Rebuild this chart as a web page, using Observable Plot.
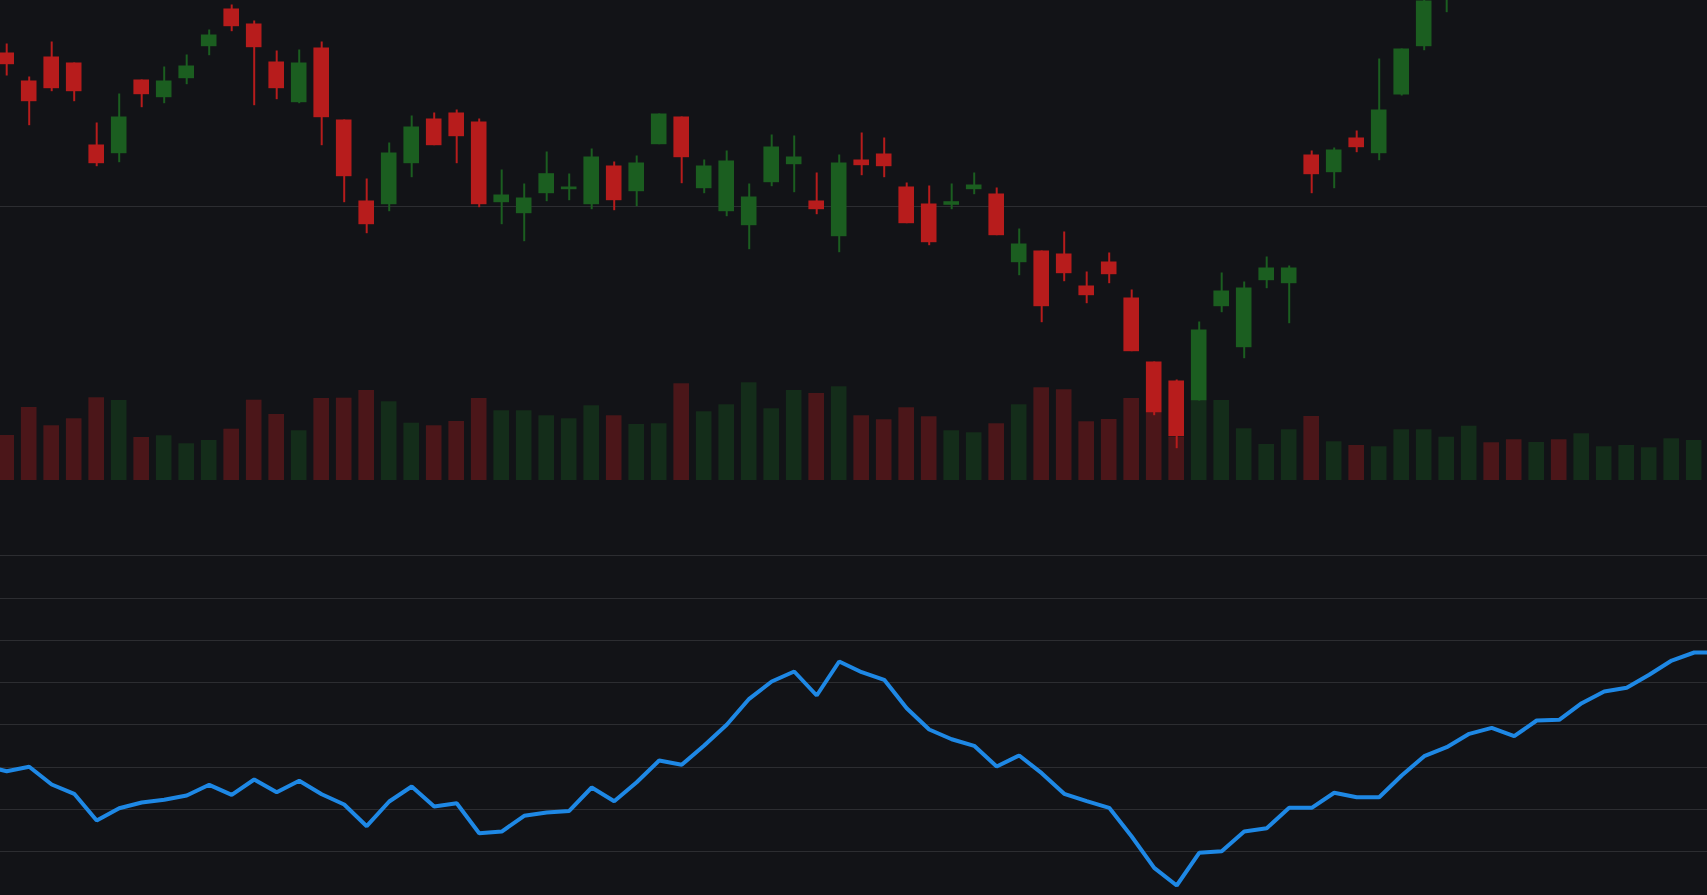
<!DOCTYPE html>
<html>
<head>
<meta charset="utf-8">
<script src="https://cdn.jsdelivr.net/npm/d3@7"></script>
<script src="https://cdn.jsdelivr.net/npm/@observablehq/plot@0.6"></script>
<style>
html, body { margin: 0; padding: 0; background: #121317; overflow: hidden; }
#chart { position: relative; width: 1707px; height: 895px; background: #121317; overflow: hidden; }
#chart svg { position: absolute; left: 0; background: transparent; }
</style>
</head>
<body>
<div id="chart"></div>
<script>
// ---- data ----
const openP = [115.35,112.55,114.95,114.35,106.15,105.28,112.65,110.88,112.78,115.98,
119.75,118.25,114.45,110.38,115.85,108.65,100.55,100.18,104.28,108.75,
109.35,108.45,100.38,99.28,101.28,101.68,100.18,104.05,101.48,106.18,
108.95,101.78,99.48,98.08,102.38,104.18,100.55,96.98,104.65,105.25,
101.95,100.25,100.12,101.68,101.25,94.38,95.55,95.25,92.05,94.45,
90.85,84.45,82.55,80.55,89.98,85.88,92.58,92.28,105.15,103.38,
106.85,105.28,111.15,115.98,121.5,124.0,126.8,125.9,124.9,126.4,
125.7,127.3,128.5,129.3,130.4,131.5];
const closeP = [114.18,110.48,111.78,111.48,104.28,108.95,111.18,112.55,114.05,117.15,
117.98,115.88,111.78,114.35,108.88,102.98,98.18,105.35,107.95,106.08,
106.98,100.18,101.15,100.85,103.28,101.95,104.95,100.58,104.35,109.25,
104.88,104.05,104.55,100.95,105.95,104.95,99.68,104.35,104.08,103.98,
98.28,96.38,100.48,102.15,97.08,96.25,89.98,93.28,91.08,93.18,
85.48,79.35,76.98,87.65,91.55,91.85,93.85,93.85,103.18,105.65,
105.88,109.65,115.75,120.55,124.0,126.5,125.6,124.7,126.2,125.5,
127.4,128.6,129.4,130.5,131.6,132.3];
const highP = [116.25,112.95,116.45,114.35,108.35,111.25,112.65,113.95,115.15,117.65,
120.15,118.55,115.55,115.65,116.45,108.65,102.75,106.35,109.05,109.35,
109.65,108.75,103.65,102.25,105.45,103.25,105.75,104.45,105.05,109.25,
108.95,104.65,105.55,102.25,107.15,107.05,103.35,105.15,107.35,106.85,
102.35,102.05,102.25,103.35,101.85,97.75,95.55,97.45,93.45,95.35,
91.65,84.45,82.65,88.45,93.35,92.45,94.95,94.05,105.55,105.85,
107.55,114.75,115.75,121.2,124.8,127.2,127.5,126.6,126.9,127.0,
128.0,129.1,129.9,131.0,132.2,132.9];
const lowP = [113.05,108.08,111.48,110.48,103.98,104.38,109.88,110.28,112.18,115.08,
117.48,110.08,110.68,110.28,106.08,100.38,97.28,99.48,102.88,106.08,
104.28,99.88,98.18,96.48,100.48,100.58,99.68,99.58,99.98,106.18,
102.28,101.28,98.98,95.68,101.98,101.38,99.18,95.38,103.08,102.88,
98.28,96.08,99.68,101.18,97.08,93.08,88.38,92.48,90.28,92.28,
85.48,79.08,75.78,80.55,89.38,84.78,91.78,88.28,101.28,101.78,
105.38,104.58,111.05,115.58,119.38,123.4,124.9,124.1,124.3,124.9,
125.2,126.9,128.0,128.9,130.0,131.1];
const volume = [450,730,547,617,827,800,430,447,367,400,
513,803,660,497,820,823,900,787,573,547,
590,820,697,697,647,617,747,647,560,567,
967,687,757,977,717,900,870,937,647,607,
727,637,497,477,567,757,927,907,587,610,
820,670,430,790,800,517,360,507,640,387,
350,337,507,507,433,543,377,407,380,407,
467,337,350,327,417,400];
// oscillator, first value belongs to the bar before index 0
const oscStart = -1;
const oscValues = [30.22,29.01,30.05,25.86,23.66,17.34,20.25,21.60,22.24,23.26,25.79,
23.42,27.04,24.04,26.74,23.56,21.13,15.99,21.84,25.39,20.65,
21.43,14.33,14.73,18.45,19.23,19.59,25.15,21.91,26.40,31.54,
30.52,35.09,39.99,46.15,50.24,52.61,46.93,54.98,52.44,50.65,
43.92,38.88,36.58,35.02,30.12,32.73,28.54,23.66,21.91,20.34,
13.55,6.14,1.95,9.69,10.07,14.73,15.52,20.34,20.34,23.90,
22.85,22.85,27.99,32.56,34.69,37.86,39.28,37.29,41.01,41.18,
45.11,47.88,48.75,51.83,55.21,57.11,57.11];
const priceGrid = [100];
const oscGrid = [10, 20, 30, 40, 50, 60, 70, 80];

// ---- styling / layout ----
const W = 1707, TOP_H = 480, BOT_H = 415;
const GRID = "#2c2d31";
const UP = "#1b5e20", DOWN = "#b71c1c", LINE = "#1e88e5";
const step = 22.5, firstCenter = 6.2;
const X0 = -firstCenter / step, X1 = X0 + W / step;
const HALF = 0.3467;

const candles = openP.map((o, i) => ({
  i, open: o, close: closeP[i], high: highP[i], low: lowP[i], vol: volume[i],
  up: closeP[i] >= o
}));
const osc = oscValues.map((v, k) => ({ i: k + oscStart, v }));

const xScale = { type: "linear", domain: [X0, X1], range: [0, W], axis: null };
const base = { width: W, margin: 0, marginTop: 0, marginRight: 0, marginBottom: 0, marginLeft: 0,
  style: { background: "transparent" } };

const chart = document.getElementById("chart");

// volume (under candles)
const volPlot = Plot.plot({
  ...base, height: TOP_H,
  x: xScale,
  y: { domain: [0, 4800], range: [TOP_H, 0], axis: null },
  marks: [
    Plot.rect(candles, { x1: d => d.i - HALF, x2: d => d.i + HALF, y1: 0, y2: "vol",
      fill: d => d.up ? UP : DOWN, fillOpacity: 0.35, clip: true })
  ]
});
volPlot.style.top = "0px";

// candles
const candlePlot = Plot.plot({
  ...base, height: TOP_H,
  x: xScale,
  y: { domain: [72.6, 120.6], range: [TOP_H, 0], axis: null },
  marks: [
    Plot.ruleY(priceGrid, { stroke: GRID, strokeWidth: 1, shapeRendering: "crispEdges" }),
    Plot.ruleX(candles, { x: "i", y1: "low", y2: "high", stroke: d => d.up ? UP : DOWN, strokeWidth: 2, clip: true }),
    Plot.rect(candles, { x1: d => d.i - HALF, x2: d => d.i + HALF, y1: "open", y2: "close",
      fill: d => d.up ? UP : DOWN, clip: true })
  ]
});
candlePlot.style.top = "0px";

// oscillator pane
const oscPlot = Plot.plot({
  ...base, height: BOT_H,
  x: xScale,
  y: { domain: [10, 80], range: [371, 75.3], axis: null },
  marks: [
    Plot.ruleY(oscGrid, { stroke: GRID, strokeWidth: 1, shapeRendering: "crispEdges" }),
    Plot.line(osc, { x: "i", y: "v", stroke: LINE, strokeWidth: 4, strokeLinejoin: "miter", clip: true })
  ]
});
oscPlot.style.top = TOP_H + "px";

chart.append(volPlot, candlePlot, oscPlot);
</script>
</body>
</html>
